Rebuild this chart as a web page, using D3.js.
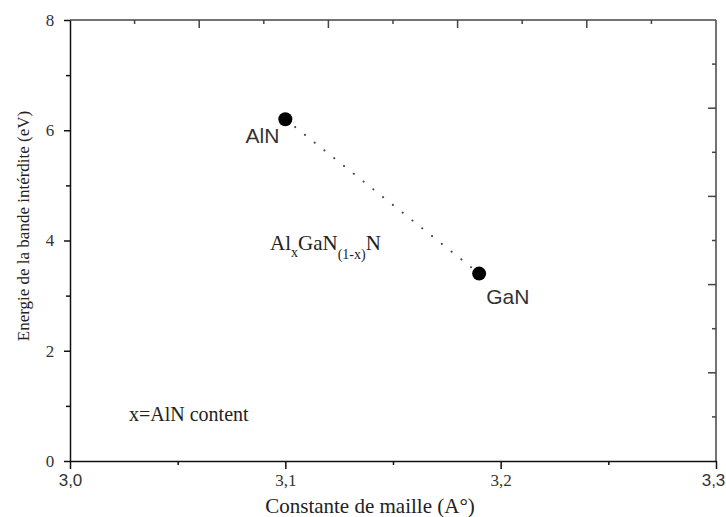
<!DOCTYPE html>
<html>
<head>
<meta charset="utf-8">
<script src="https://cdn.jsdelivr.net/npm/d3@7.9.0/dist/d3.min.js"></script>
<style>
  body { margin: 0; background: #fff; }
  svg { display: block; }
</style>
</head>
<body>
<svg id="chart" width="726" height="517"></svg>
<script>
// data
const materials = ["AlN", "GaN"];
const latticeConst = [3.10, 3.19];
const bandGap = [6.2, 3.4];
const xTicks = [3.0, 3.1, 3.2, 3.3];
const xMinorTicks = [3.05, 3.15, 3.25];
const yTicks = [0, 2, 4, 6, 8];
const yMinorTicks = [1, 3, 5, 7];

const svg = d3.select("#chart");
const plotLeft = 70, plotRight = 716, plotTop = 20, plotBottom = 461;

const x = d3.scaleLinear().domain([3.0, 3.3]).range([plotLeft, plotRight]);
const y = d3.scaleLinear().domain([0, 8]).range([plotBottom, plotTop]);
const fmt = d => d3.format(".1f")(d).replace(".", ",");

const serif = "'Liberation Serif', 'Times New Roman', serif";
const sans = "'Liberation Sans', Arial, sans-serif";

// frame: top and right axes (10 divisions, ticks inward)
const frame = svg.append("g").attr("stroke", "#444").attr("stroke-width", 1.5);
frame.append("line").attr("x1", plotLeft).attr("x2", plotRight).attr("y1", plotTop).attr("y2", plotTop);
frame.append("line").attr("x1", plotRight).attr("x2", plotRight).attr("y1", plotTop).attr("y2", plotBottom);
d3.range(1, 10).forEach(i => {
  const xv = x(3.0 + i * 0.03);
  const len = i % 2 === 0 ? 8 : 4;
  frame.append("line").attr("x1", xv).attr("x2", xv).attr("y1", plotTop).attr("y2", plotTop + len);
  const yv = y(i * 0.8);
  frame.append("line").attr("x1", plotRight).attr("x2", plotRight - len).attr("y1", yv).attr("y2", yv);
});

// bottom axis
const xAxis = svg.append("g")
  .attr("transform", `translate(0,${plotBottom})`)
  .call(d3.axisBottom(x).tickValues(xTicks).tickFormat(fmt).tickSize(8).tickSizeOuter(0));
svg.append("g")
  .attr("transform", `translate(0,${plotBottom})`)
  .call(d3.axisBottom(x).tickValues(xMinorTicks).tickFormat("").tickSize(4).tickSizeOuter(0))
  .select(".domain").remove();

// left axis
const yAxis = svg.append("g")
  .attr("transform", `translate(${plotLeft},0)`)
  .call(d3.axisLeft(y).tickValues(yTicks).tickFormat(d3.format("d")).tickSize(6).tickSizeOuter(0));
svg.append("g")
  .attr("transform", `translate(${plotLeft},0)`)
  .call(d3.axisLeft(y).tickValues(yMinorTicks).tickFormat("").tickSize(4).tickSizeOuter(0))
  .select(".domain").remove();

svg.selectAll(".domain, .tick line").attr("stroke", "#111").attr("stroke-width", 1.5);
xAxis.selectAll("text")
  .attr("font-family", d => (d === 3.0 || d === 3.3) ? sans : serif)
  .attr("font-size", 17).attr("fill", "#333").attr("dy", "0.85em")
  .attr("dx", d => d === 3.3 ? -3 : 0);
yAxis.selectAll("text").attr("font-family", serif).attr("font-size", 17).attr("fill", "#333").attr("dx", "-0.4em");

// axis titles
svg.append("text")
  .attr("x", 370)
  .attr("y", 513)
  .attr("text-anchor", "middle")
  .attr("font-family", serif)
  .attr("font-size", 21)
  .attr("fill", "#222")
  .text("Constante de maille (A°)");

svg.append("text")
  .attr("transform", "translate(29,226) rotate(-90)")
  .attr("text-anchor", "middle")
  .attr("font-family", serif)
  .attr("font-size", 17)
  .attr("fill", "#222")
  .text("Energie de la bande intérdite (eV)");

// dotted line between the two compounds
const line = d3.line().x(d => x(d[0])).y(d => y(d[1]));
svg.append("path")
  .datum(latticeConst.map((c, i) => [c, bandGap[i]]))
  .attr("d", line)
  .attr("fill", "none")
  .attr("stroke", "#444")
  .attr("stroke-width", 2)
  .attr("stroke-linecap", "round")
  .attr("stroke-dasharray", "0.1,12.4");

// points
svg.selectAll("circle.pt")
  .data(materials)
  .enter()
  .append("circle")
  .attr("class", "pt")
  .attr("cx", (d, i) => x(latticeConst[i]))
  .attr("cy", (d, i) => y(bandGap[i]))
  .attr("r", 7)
  .attr("fill", "#000");

// point labels
const labelOffsets = [{ dx: -6, dy: 24, anchor: "end" }, { dx: 7, dy: 30, anchor: "start" }];
svg.selectAll("text.lbl")
  .data(materials)
  .enter()
  .append("text")
  .attr("class", "lbl")
  .attr("x", (d, i) => x(latticeConst[i]) + labelOffsets[i].dx)
  .attr("y", (d, i) => y(bandGap[i]) + labelOffsets[i].dy)
  .attr("text-anchor", (d, i) => labelOffsets[i].anchor)
  .attr("font-family", sans)
  .attr("font-size", 21)
  .attr("fill", "#333")
  .text(d => d);

// alloy formula
const formula = svg.append("text")
  .attr("x", 270)
  .attr("y", 250)
  .attr("font-family", serif)
  .attr("font-size", 21)
  .attr("fill", "#222");
formula.append("tspan").text("Al");
formula.append("tspan").attr("font-size", 14).attr("dy", 7).text("x");
formula.append("tspan").attr("dy", -7).text("GaN");
formula.append("tspan").attr("font-size", 14).attr("dy", 9).text("(1-x)");
formula.append("tspan").attr("dy", -9).text("N");

svg.append("text")
  .attr("x", 129)
  .attr("y", 421)
  .attr("font-family", serif)
  .attr("font-size", 20)
  .attr("fill", "#222")
  .text("x=AlN content");
</script>
</body>
</html>
